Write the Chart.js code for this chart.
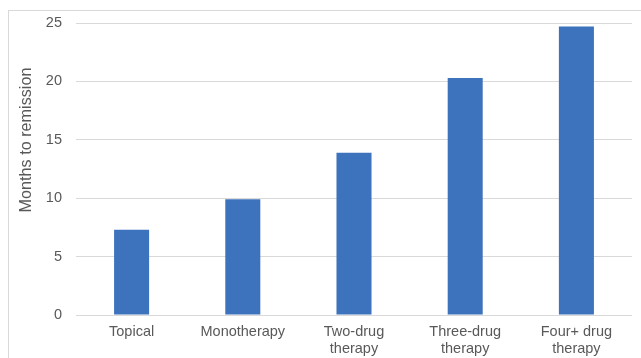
<!DOCTYPE html>
<html>
<head>
<meta charset="utf-8">
<script src="https://cdn.jsdelivr.net/npm/chart.js@4"></script>
<style>
  html, body { margin: 0; padding: 0; background: #fff; }
  #wrap { width: 641px; height: 358px; position: relative; }
</style>
</head>
<body>
<div id="wrap"><canvas id="remissionChart"></canvas></div>
<script>
const categories = ['Topical', 'Monotherapy', ['Two-drug', 'therapy'], ['Three-drug', 'therapy'], ['Four+ drug', 'therapy']];
const monthsToRemission = [7.3, 9.9, 13.9, 20.3, 24.7];
const yTicks = [0, 5, 10, 15, 20, 25];
const yTitle = 'Months to remission';

// light grey frame of the original chart object + y title placed like Excel does
const frame = {
    id: 'frame',
    beforeDraw(chart) {
        const ctx = chart.ctx;
        ctx.save();
        ctx.strokeStyle = '#d9d9d9';
        ctx.lineWidth = 1;
        ctx.strokeRect(8.5, 10.5, 700, 400);
        ctx.restore();
    },
    afterDraw(chart) {
        const ctx = chart.ctx;
        ctx.save();
        ctx.translate(27, 140);
        ctx.rotate(-Math.PI / 2);
        ctx.fillStyle = '#595959';
        ctx.font = '16.2px "Liberation Sans"';
        ctx.textAlign = 'center';
        ctx.textBaseline = 'middle';
        ctx.fillText(yTitle, 0, 0);
        ctx.restore();
    }
};

const ctx = document.getElementById('remissionChart').getContext('2d');
new Chart(ctx, {
    type: 'bar',
    data: {
        labels: categories,
        datasets: [{
            label: yTitle,
            data: monthsToRemission,
            backgroundColor: '#3d72bc',
            borderWidth: 0,
            categoryPercentage: 1,
            barPercentage: 0.315
        }]
    },
    options: {
        responsive: true,
        maintainAspectRatio: false,
        animation: false,
        layout: { padding: { left: 0, right: 9, top: 23, bottom: 0 } },
        plugins: {
            legend: { display: false },
            tooltip: { enabled: false }
        },
        scales: {
            x: {
                grid: { display: false, drawTicks: false },
                border: { display: false },
                ticks: {
                    color: '#595959',
                    padding: 9,
                    maxRotation: 0,
                    autoSkip: false,
                    font: { family: 'Liberation Sans', size: 14.5, lineHeight: 1.17 }
                },
                afterFit(scale) { scale.height = 43; }
            },
            y: {
                min: 0,
                max: 25,
                afterBuildTicks(scale) { scale.ticks = yTicks.map(v => ({ value: v })); },
                grid: { color: '#d9d9d9', lineWidth: 1, drawTicks: false },
                border: { display: false },
                ticks: {
                    color: '#595959',
                    padding: 14,
                    font: { family: 'Liberation Sans', size: 14.5 }
                },
                afterFit(scale) { scale.width = 76; }
            }
        }
    },
    plugins: [frame]
});
</script>
</body>
</html>
